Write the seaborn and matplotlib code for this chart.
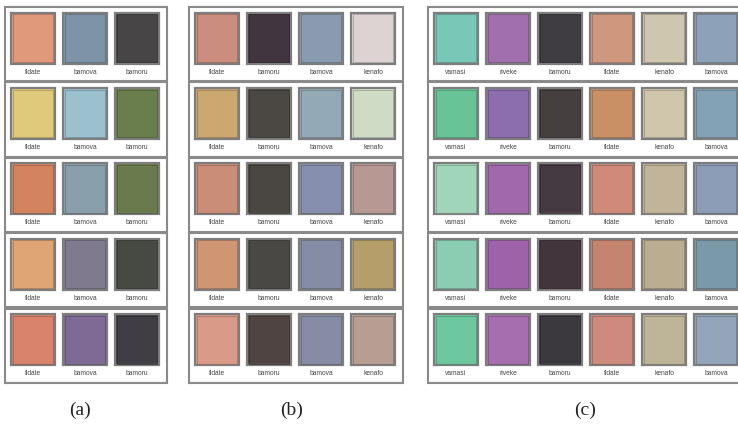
import matplotlib
matplotlib.use("Agg")
import matplotlib.pyplot as plt
import matplotlib.colors as mcolors
from matplotlib.patches import Rectangle
import seaborn as sns

# nomes das cores em cada painel
labels_a = ["fidate", "bamova", "bamoru"]
labels_b = ["fidate", "bamoru", "bamova", "kenafo"]
labels_c = ["vamasi", "riveke", "bamoru", "fidate", "kenafo", "bamova"]

# cores de cada linha (5 linhas por painel)
colors_a = [
    ["#E0997A", "#7F93A8", "#474546"],
    ["#DFC97A", "#9BC1CE", "#6A7D4C"],
    ["#D4835F", "#8A9FAC", "#6A7A4C"],
    ["#DFA574", "#7F7A8E", "#474A42"],
    ["#D9836D", "#7F6A95", "#403D45"],
]
colors_b = [
    ["#CB8E7E", "#41363F", "#8A9BB0", "#DDD3D3"],
    ["#CCA871", "#4B4843", "#93A9B6", "#D0DBC5"],
    ["#CA8D78", "#4A4641", "#8690AE", "#B89892"],
    ["#CE9673", "#4A4844", "#848DA5", "#B69E6A"],
    ["#DA9A88", "#4F4442", "#868CA6", "#B89D92"],
]
colors_c = [
    ["#79C8B7", "#A26FAD", "#403D42", "#D0977F", "#CEC6AE", "#8DA2B8"],
    ["#68C496", "#8C6DAD", "#453F3F", "#C99065", "#CFC6AB", "#84A2B6"],
    ["#A1D5BA", "#A169AB", "#453A42", "#CF8A79", "#C2B498", "#8C9DB8"],
    ["#8ACDB2", "#9D62AA", "#42363C", "#C48470", "#BBAE90", "#7A9AAA"],
    ["#6DC8A0", "#A76EAF", "#3B393E", "#CE8A7C", "#BEB498", "#93A5BA"],
]
panel_names = ["(a)", "(b)", "(c)"]


def darker(c, f=0.72):
    r, g, b = mcolors.to_rgb(c)
    return (r * f, g * f, b * f)


def draw_panel(ax, x0, labels, colors, name, name_dx=0):
    n = len(labels)
    top, row_h = 7, 75.4
    pitch, sw_w, sw_h = 52, 44, 51
    box_w = 6 + (n - 1) * pitch + sw_w + 8
    for i, row in enumerate(colors):
        y = top + i * row_h
        ax.add_patch(Rectangle((x0, y), box_w, row_h - 1.2, facecolor="white",
                               edgecolor="#8a8a8a", lw=1.5))
        for j, c in enumerate(row):
            sx = x0 + 6 + j * pitch
            sy = y + 5.5
            ax.add_patch(Rectangle((sx, sy), sw_w, sw_h, facecolor=c,
                                   edgecolor="#7d7d7d", lw=1.6))
            ax.add_patch(Rectangle((sx + 1.6, sy + 1.6), sw_w - 3.2, sw_h - 3.2,
                                   facecolor="none", edgecolor=darker(c), lw=0.5))
            ax.text(sx + sw_w / 2, y + 65, labels[j], ha="center", va="center",
                    fontsize=4.8, color="#444444", family="Liberation Sans")
    ax.text(x0 + box_w / 2 + name_dx, 410, name, ha="center", va="center",
            fontsize=14, color="#222222", family="Liberation Serif")


sns.set_theme(style="white")
fig = plt.figure(figsize=(7.38, 4.28), dpi=100)
ax = fig.add_axes([0, 0, 1, 1])
ax.set_xlim(0, 738)
ax.set_ylim(428, 0)
ax.axis("off")

draw_panel(ax, 5, labels_a, colors_a, panel_names[0], -6)
draw_panel(ax, 189, labels_b, colors_b, panel_names[1], -4)
draw_panel(ax, 428, labels_c, colors_c, panel_names[2], -2)

fig.savefig("out.png", dpi=100, facecolor="white")
